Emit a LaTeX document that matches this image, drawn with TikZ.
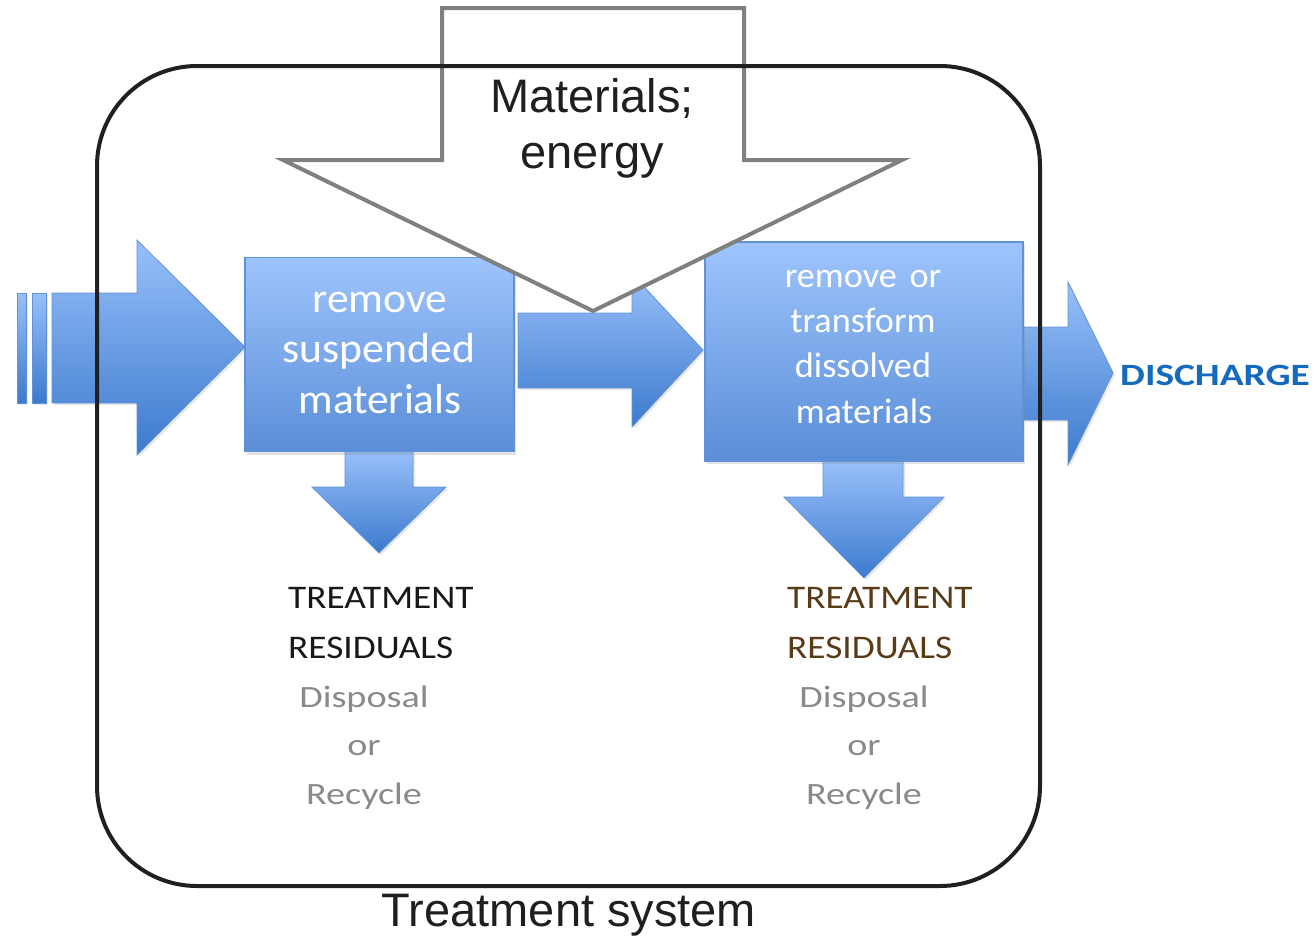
\documentclass[tikz,border=0pt]{standalone}
\usepackage{fontspec}
\setmainfont{Liberation Sans}
\newfontfamily\carlito{Carlito}
\usetikzlibrary{shadows}

\definecolor{boxtop}{RGB}{158,196,252}
\definecolor{boxbot}{RGB}{90,142,216}
\definecolor{arrtop}{RGB}{152,192,250}
\definecolor{arrbot}{RGB}{60,122,205}
\definecolor{edgeblue}{RGB}{98,146,214}
\definecolor{framecol}{RGB}{32,32,32}
\definecolor{inputgray}{RGB}{128,128,128}
\definecolor{dischargeblue}{RGB}{22,106,190}
\definecolor{residgray}{RGB}{138,138,138}
\definecolor{residdark}{RGB}{24,24,24}
\definecolor{residbrown}{RGB}{88,60,24}

% horizontally widened text
\newcommand\widetext[2]{\scalebox{#1}[1]{#2}}

\begin{document}
\begin{tikzpicture}[x=1pt,y=-1pt,
  blockarrow/.style={top color=arrtop, bottom color=arrbot, draw=edgeblue,
    line width=0.8pt, line join=miter,
    drop shadow={opacity=0.18, shadow xshift=2pt, shadow yshift=-2pt}},
  procbox/.style={rectangle, top color=boxtop, bottom color=boxbot,
    draw=edgeblue, line width=1.2pt, inner sep=0pt,
    drop shadow={opacity=0.22, shadow xshift=2pt, shadow yshift=-3pt}},
  boxtext/.style={anchor=base, text=white, inner sep=0pt},
  restitle/.style={anchor=base west, inner sep=0pt,
    font=\carlito\fontsize{33}{40}\selectfont},
  resnote/.style={anchor=base, inner sep=0pt, text=residgray,
    font=\carlito\fontsize{31}{40}\selectfont},
  inputarrow/.style={fill=white, draw=inputgray, line width=4pt, line join=miter},
  systemframe/.style={rectangle, draw=framecol, line width=4pt,
    rounded corners=100pt, inner sep=0pt},
  bigtext/.style={anchor=base, inner sep=0pt, text=black!88,
    font=\fontsize{47}{56}\selectfont}]

\useasboundingbox (0,0) rectangle (1314,937);

% incoming flow: three bars and a block arrow
\path[blockarrow] (17,293) rectangle (26,403);
\path[blockarrow] (32,293) rectangle (46,403);
\path[blockarrow] (52,293) -- (137,293) -- (137,240) -- (245,347)
  -- (137,455) -- (137,403) -- (52,403) -- cycle;

% flow between the two stages
\path[blockarrow] (518,313) -- (632,313) -- (632,274) -- (703,350)
  -- (632,427) -- (632,388) -- (518,388) -- cycle;

% outgoing flow
\path[blockarrow] (1023,327) -- (1068,327) -- (1068,282) -- (1113,373)
  -- (1068,465) -- (1068,420) -- (1023,420) -- cycle;

% residual outflows
\path[blockarrow] (345,451) -- (413,451) -- (413,487) -- (446,487)
  -- (379,553) -- (312,487) -- (345,487) -- cycle;
\path[blockarrow] (823,461) -- (903,461) -- (903,497) -- (944,497)
  -- (864,578) -- (784,497) -- (823,497) -- cycle;

% treatment stages
\node[procbox, minimum width=269pt, minimum height=194pt] (stage1) at (379.5,354.5) {};
\node[procbox, minimum width=318pt, minimum height=219pt] (stage2) at (864,351.5) {};

\begin{scope}[font=\carlito\fontsize{42}{50}\selectfont]
  \node[boxtext] (s1a) at (380,312) {\widetext{1.04}{remove}};
  \node[boxtext] (s1b) at (379,362) {\widetext{1.04}{suspended}};
  \node[boxtext] (s1c) at (380,413) {\widetext{1.03}{materials}};
\end{scope}
\begin{scope}[font=\carlito\fontsize{35.5}{45}\selectfont]
  \node[boxtext] (s2a) at (863,287) {\widetext{1.02}{remove\hspace{0.35em}or}};
  \node[boxtext] (s2b) at (863,332) {\widetext{1.02}{transform}};
  \node[boxtext] (s2c) at (863,377) {\widetext{1.02}{dissolved}};
  \node[boxtext] (s2d) at (864,423) {\widetext{1.02}{materials}};
\end{scope}

% inputs of materials and energy
\path[inputarrow] (442,8) -- (744,8) -- (744,160) -- (902,160)
  -- (593,311) -- (283,160) -- (442,160) -- cycle;

% system boundary
\node[systemframe, minimum width=943pt, minimum height=820pt] (system) at (568.5,476) {};

\node[bigtext] (inputs1) at (592,112) {Materials;};
\node[bigtext] (inputs2) at (592,168) {energy};
\node[bigtext] (systemlabel) at (569,926) {Treatment system};

\node[anchor=base west, inner sep=0pt, text=dischargeblue,
  font=\carlito\bfseries\fontsize{31}{36}\selectfont] (discharge) at (1120,385)
  {\widetext{1.27}{DISCHARGE}};

% residuals of the first stage
\node[restitle, text=residdark] (r1a) at (288,608) {\widetext{1.13}{TREATMENT}};
\node[restitle, text=residdark] (r1b) at (288,658) {\widetext{1.13}{RESIDUALS}};
\node[resnote] (r1c) at (364,707) {\widetext{1.23}{Disposal}};
\node[resnote] (r1d) at (364,755) {\widetext{1.23}{or}};
\node[resnote] (r1e) at (364,804) {\widetext{1.23}{Recycle}};

% residuals of the second stage
\node[restitle, text=residbrown] (r2a) at (787,608) {\widetext{1.13}{TREATMENT}};
\node[restitle, text=residbrown] (r2b) at (787,658) {\widetext{1.13}{RESIDUALS}};
\node[resnote] (r2c) at (864,707) {\widetext{1.23}{Disposal}};
\node[resnote] (r2d) at (864,755) {\widetext{1.23}{or}};
\node[resnote] (r2e) at (864,804) {\widetext{1.23}{Recycle}};

\end{tikzpicture}
\end{document}
